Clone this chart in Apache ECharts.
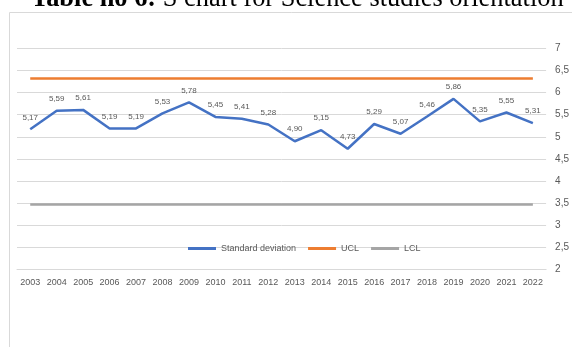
<!DOCTYPE html>
<html>
<head>
<meta charset="utf-8">
<script src="https://cdn.jsdelivr.net/npm/echarts@6/dist/echarts.min.js"></script>
<style>
html,body{margin:0;padding:0;background:#fff;}
#c{width:572px;height:347px;}
</style>
</head>
<body>
<div id="c"></div>
<script>
const years = ['2003','2004','2005','2006','2007','2008','2009','2010','2011','2012','2013','2014','2015','2016','2017','2018','2019','2020','2021','2022'];
const stdDev = [5.17,5.59,5.61,5.19,5.19,5.53,5.78,5.45,5.41,5.28,4.90,5.15,4.73,5.29,5.07,5.46,5.86,5.35,5.55,5.31];
const uclValue = 6.32;
const lclValue = 3.47;
const ucl = years.map(() => uclValue);
const lcl = years.map(() => lclValue);
const titleBold = 'Table no 6:';
const titleRest = ' S chart for Science studies orientation';

const comma = v => String(v).replace('.', ',');
const chart = echarts.init(document.getElementById('c'));
chart.setOption({
  animation: false,
  textStyle: {fontFamily: 'Liberation Sans'},
  graphic: [
    {type: 'rect', shape: {x: 9.5, y: 12.5, width: 700, height: 500}, style: {fill: 'none', stroke: '#d9d9d9', lineWidth: 1}, z: 0},
    {type: 'text', x: 31, y: 12, style: {
      text: '{b|' + titleBold + '}{r|' + titleRest + '}',
      textVerticalAlign: 'bottom',
      rich: {
        b: {fontFamily: 'Liberation Serif', fontSize: 26.4, fontWeight: 'bold', fill: '#000'},
        r: {fontFamily: 'Liberation Serif', fontSize: 26.4, fill: '#000'}
      }
    }, z: 10}
  ],
  grid: {left: 17, right: 25, top: 48.5, bottom: 77.7},
  legend: {
    left: 188, top: 244, padding: 0,
    itemWidth: 28, itemHeight: 3, itemGap: 12,
    icon: 'rect',
    textStyle: {fontSize: 9, color: '#595959', fontFamily: 'Liberation Sans'},
    data: ['Standard deviation', 'UCL', 'LCL']
  },
  xAxis: {
    type: 'category', data: years, boundaryGap: true,
    axisLine: {show: true, lineStyle: {color: '#d9d9d9'}},
    axisTick: {show: false},
    axisLabel: {fontSize: 9, color: '#595959', margin: 9, interval: 0}
  },
  yAxis: {
    type: 'value', position: 'right', min: 2, max: 7, interval: 0.5,
    axisLine: {show: false}, axisTick: {show: false},
    splitLine: {lineStyle: {color: '#d9d9d9', width: 1}},
    axisLabel: {fontSize: 10, color: '#595959', margin: 9, formatter: v => comma(v)}
  },
  series: [
    {name: 'Standard deviation', type: 'line', data: stdDev, symbol: 'circle', symbolSize: 0, showSymbol: true,
      lineStyle: {color: '#4472C4', width: 2.5}, itemStyle: {color: '#4472C4'},
      label: {show: true, position: 'top', distance: 8, fontSize: 8, color: '#595959',
        formatter: p => p.value.toFixed(2).replace('.', ',')}, z: 5},
    {name: 'UCL', type: 'line', data: ucl, symbol: 'none',
      lineStyle: {color: '#ED7D31', width: 2.5}, itemStyle: {color: '#ED7D31'}},
    {name: 'LCL', type: 'line', data: lcl, symbol: 'none',
      lineStyle: {color: '#A5A5A5', width: 2.5}, itemStyle: {color: '#A5A5A5'}}
  ]
});
</script>
</body>
</html>
